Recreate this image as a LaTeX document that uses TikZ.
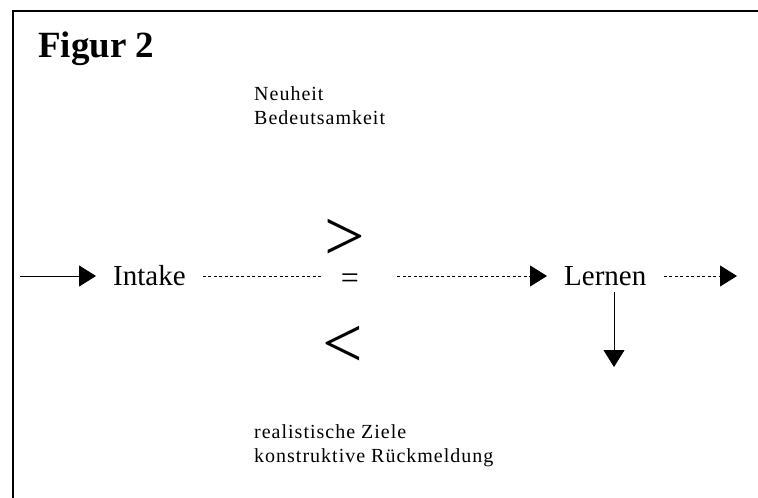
\documentclass[tikz,border=0pt]{standalone}
\usepackage{fontspec}
\setmainfont{Liberation Serif}
\newfontfamily\spacedfont[LetterSpace=5]{Liberation Serif}
\usetikzlibrary{arrows.meta}

\tikzset{
  flow/.style={line width=0.8pt},
  dashflow/.style={line width=0.8pt, dash pattern=on 3pt off 2.5pt},
  tip/.style={-{Triangle[length=17pt,width=21pt]}},
  term/.style={inner xsep=17pt, inner ysep=0pt, anchor=base west,
    font=\fontsize{29}{34}\selectfont},
  cue/.style={inner sep=0pt, align=left, anchor=north west,
    font=\spacedfont\fontsize{20}{24}\selectfont},
  rel/.style={inner sep=0pt, font=\fontsize{72}{72}\selectfont}
}

\begin{document}
\begin{tikzpicture}[x=1pt,y=-1pt]
\useasboundingbox (0,0) rectangle (758,498);
% frame
\draw[line width=1.6pt] (13,498) -- (13,11) -- (758,11);
\node[anchor=base west, inner sep=0pt,
  font=\bfseries\fontsize{37}{44}\selectfont] (title) at (38,57) {Figur 2};
% cues above and below
\node[cue] (above) at (254,86) {Neuheit\\Bedeutsamkeit};
\node[cue] (below) at (254,424) {realistische Ziele\\konstruktive R\"uckmeldung};
% main line
\node[term] (intake) at (96,285) {Intake};
\node[term] (lernen) at (547,285) {Lernen};
\node[rel] (gt) at (345,240) {>};
\node[inner sep=0pt, font=\fontsize{32}{32}\selectfont] (eq) at (350,281) {=};
\node[rel] (lt) at (343,347) {<};
% axis points, 9pt above the baseline
\coordinate (inL) at ([yshift=9pt]intake.base west);
\coordinate (inR) at ([yshift=9pt]intake.base east);
\coordinate (lnL) at ([yshift=9pt]lernen.base west);
\coordinate (lnR) at ([yshift=9pt]lernen.base east);
\coordinate (start) at (20,0);
\coordinate (gapL) at (322,0);
\coordinate (gapR) at (397,0);
\coordinate (exit) at (737,0);
\coordinate (down) at (614,367);
\draw[flow,tip] (inL -| start) -- (inL);
\draw[dashflow] (inR) -- (inR -| gapL);
\draw[dashflow,tip] (lnL -| gapR) -- (lnL);
\draw[dashflow,tip] (lnR) -- (lnR -| exit);
\draw[flow,tip] (lernen.south -| down) ++(0,7) -- (down);
\end{tikzpicture}
\end{document}
